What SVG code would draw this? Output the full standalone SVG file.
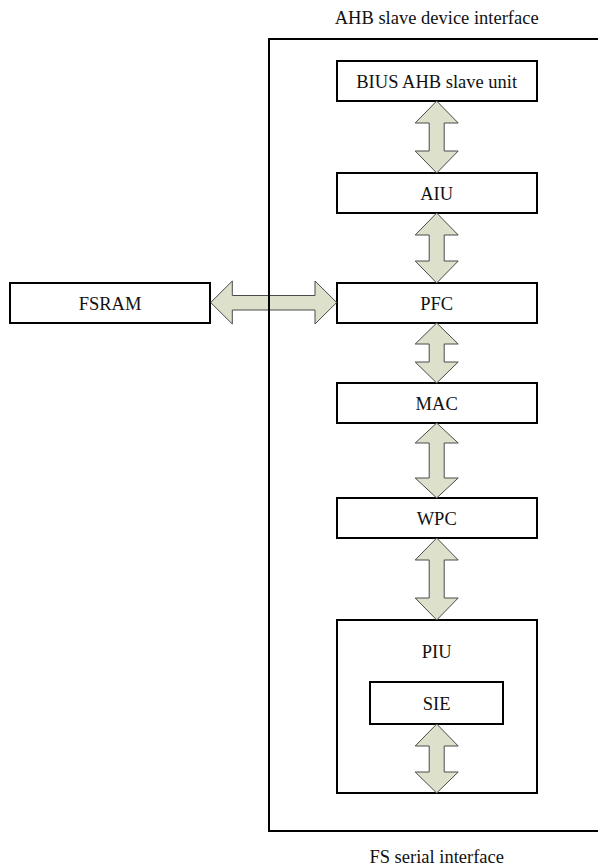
<svg xmlns="http://www.w3.org/2000/svg" width="598" height="867" viewBox="0 0 598 867">
<style>
.box{fill:#ffffff;stroke:#000000;stroke-width:2}
.frame{fill:none;stroke:#000000;stroke-width:2}
.lbl{font-family:"Liberation Serif","Times New Roman",serif;font-size:18.5px;fill:#111111;text-anchor:middle}
.arr{fill:#dde0cb;stroke:#4a4a4a;stroke-width:1;stroke-linejoin:miter}
</style>
<rect width="598" height="867" fill="#ffffff"/>
<text class="lbl" x="436.7" y="24">AHB slave device interface</text>
<text class="lbl" x="436.7" y="863">FS serial interface</text>
<g id="piu"><rect class="box" x="337" y="620" width="200" height="173"/><text class="lbl" x="436.7" y="658">PIU</text></g>
<g id="sie"><rect class="box" x="370" y="682" width="133" height="42"/><text class="lbl" x="436.7" y="710">SIE</text></g>
<g id="bius"><rect class="box" x="337" y="61" width="200" height="40"/><text class="lbl" x="436.7" y="88">BIUS AHB slave unit</text></g>
<g id="aiu"><rect class="box" x="337" y="173" width="200" height="40"/><text class="lbl" x="436.7" y="200">AIU</text></g>
<g id="pfc"><rect class="box" x="337" y="283" width="200" height="40"/><text class="lbl" x="436.7" y="310">PFC</text></g>
<g id="mac"><rect class="box" x="337" y="383" width="200" height="40"/><text class="lbl" x="436.7" y="410">MAC</text></g>
<g id="wpc"><rect class="box" x="337" y="498" width="200" height="40"/><text class="lbl" x="436.7" y="525">WPC</text></g>
<g id="fsram"><rect class="box" x="10" y="283" width="200" height="40"/><text class="lbl" x="110" y="310">FSRAM</text></g>
<g id="connectors">
<polygon class="arr" points="436.7,101 458.2,123 444.2,123 444.2,151 458.2,151 436.7,173 415.2,151 429.2,151 429.2,123 415.2,123"/>
<polygon class="arr" points="436.7,213 458.2,235 444.2,235 444.2,261 458.2,261 436.7,283 415.2,261 429.2,261 429.2,235 415.2,235"/>
<polygon class="arr" points="436.7,323 458.2,344 444.2,344 444.2,362 458.2,362 436.7,383 415.2,362 429.2,362 429.2,344 415.2,344"/>
<polygon class="arr" points="436.7,423 458.2,443 444.2,443 444.2,478 458.2,478 436.7,498 415.2,478 429.2,478 429.2,443 415.2,443"/>
<polygon class="arr" points="436.7,538 458.2,560 444.2,560 444.2,598 458.2,598 436.7,620 415.2,598 429.2,598 429.2,560 415.2,560"/>
<polygon class="arr" points="436.7,724 458.2,746 444.2,746 444.2,772 458.2,772 436.7,793 415.2,772 429.2,772 429.2,746 415.2,746"/>
<polygon class="arr" points="210.7,302.5 232.3,281 232.3,295.5 315,295.5 315,281 336.7,302.5 315,324 315,310 232.3,310 232.3,324"/>
</g>
<g id="ahb-device"><rect class="frame" x="269" y="39" width="340" height="792"/></g>
</svg>
